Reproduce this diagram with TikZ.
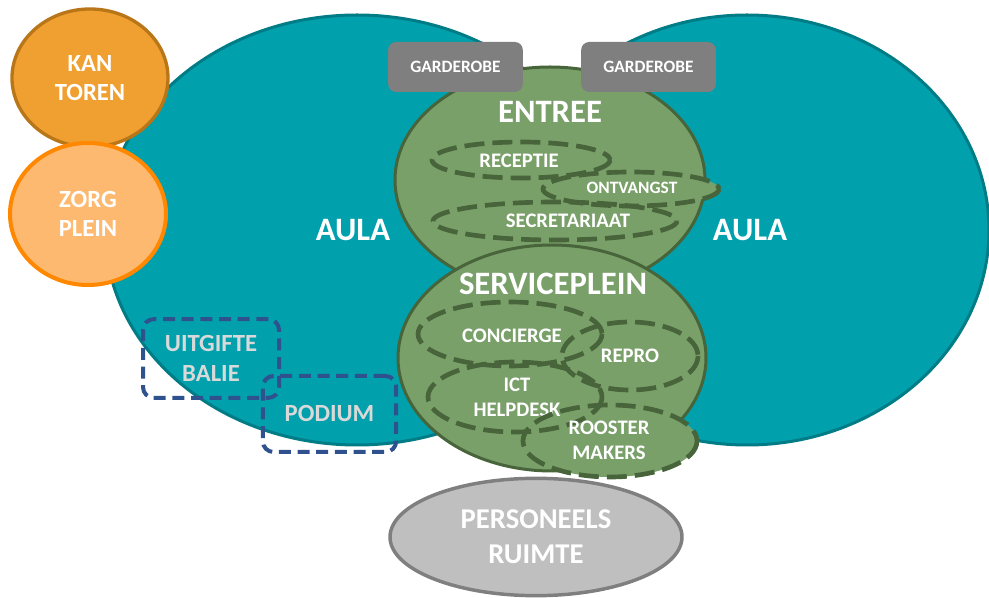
\documentclass[tikz,border=0pt]{standalone}
\usepackage{fontspec}
\setmainfont{Carlito}
\usepackage{xcolor}
\usetikzlibrary{shapes.geometric}

\definecolor{aulavul}{RGB}{0,160,172}
\definecolor{aularand}{RGB}{0,124,134}
\definecolor{groenvul}{RGB}{122,160,106}
\definecolor{groenrand}{RGB}{72,100,58}
\definecolor{grijs}{RGB}{127,127,127}
\definecolor{lichtgrijs}{RGB}{191,191,191}
\definecolor{kantoorvul}{RGB}{240,160,48}
\definecolor{kantoorrand}{RGB}{185,118,24}
\definecolor{zorgvul}{RGB}{253,185,112}
\definecolor{zorgrand}{RGB}{255,136,0}
\definecolor{balie}{RGB}{47,82,143}
\definecolor{balietekst}{RGB}{217,217,217}

\tikzset{
	txt/.style={text=white, align=center, inner sep=0pt},
	groot/.style={txt, font=\fontsize{24.5}{29}\selectfont\bfseries},
	middel/.style={txt, font=\fontsize{18.5}{22}\selectfont\bfseries},
	klein/.style={txt, font=\fontsize{15.5}{18.5}\selectfont\bfseries},
	mini/.style={txt, font=\fontsize{13}{15}\selectfont\bfseries},
	aula/.style={fill=aulavul, draw=aularand, line width=2.25pt},
	plein/.style={fill=groenvul, draw=groenrand, line width=2.25pt},
	balie/.style={draw=groenrand, line width=3.5pt, dash pattern=on 15pt off 6pt},
	garderobe/.style={mini, fill=grijs, rounded corners=6pt, minimum width=101pt, minimum height=37.5pt},
	vakje/.style={middel, text=balietekst, draw=balie, line width=3pt, dash pattern=on 9pt off 5pt, rounded corners=8pt},
	bol/.style={middel, ellipse, line width=2.5pt}
}

\begin{document}
\begin{tikzpicture}[x=0.75pt, y=-0.75pt]
	\useasboundingbox (0,0) rectangle (989,598);

	% aula
	\draw[aula] (747,230) ellipse [x radius=242, y radius=215];
	\draw[aula] (357,230) ellipse [x radius=252, y radius=215];
	\node[groot] (aulaL) at (353,230) {AULA};
	\node[groot] (aulaR) at (750,230) {AULA};

	% entree
	\draw[plein] (550,180) ellipse [x radius=155, y radius=113];
	\fill[groenvul] (631,189) ellipse [x radius=88, y radius=17];
	\draw[balie] (521,160) ellipse [x radius=89, y radius=18];
	\draw[balie] (631,189) ellipse [x radius=88, y radius=17];
	\draw[balie] (555,221) ellipse [x radius=122, y radius=19];
	\node[groot] (entree) at (550,112) {ENTREE};
	\node[klein] (receptie) at (519,161) {RECEPTIE};
	\node[mini] (ontvangst) at (632,188) {ONTVANGST};
	\node[klein] (secretariaat) at (568,221) {SECRETARIAAT};

	% serviceplein
	\draw[plein] (552,358) ellipse [x radius=154, y radius=113];
	\fill[groenvul] (610,441) ellipse [x radius=87, y radius=36];
	\draw[balie] (510,334) ellipse [x radius=92, y radius=32];
	\draw[balie] (630,356) ellipse [x radius=68, y radius=34];
	\draw[balie] (515,397) ellipse [x radius=87, y radius=35];
	\node[groot] (serviceplein) at (553,284) {SERVICEPLEIN};
	\node[klein] (concierge) at (512,336) {CONCIERGE};
	\node[klein] (repro) at (630,356) {REPRO};
	\node[klein] (helpdesk) at (517,397) {ICT\\HELPDESK};
	\draw[balie] (610,441) ellipse [x radius=87, y radius=36];
	\node[klein] (rooster) at (609,440) {ROOSTER\\MAKERS};

	% garderobes
	\node[garderobe] (garderobeL) at (455.5,67) {GARDEROBE};
	\node[garderobe] (garderobeR) at (648.5,67) {GARDEROBE};

	% links
	\node[bol, fill=kantoorvul, draw=kantoorrand, minimum width=117pt, minimum height=103.5pt] (kantoren) at (90,78) {KAN\\TOREN};
	\node[bol, fill=zorgvul, draw=zorgrand, line width=3pt, minimum width=117pt, minimum height=106.5pt] (zorgplein) at (88,214) {ZORG\\PLEIN};
	\node[vakje, minimum width=102pt, minimum height=59pt] (uitgifte) at (211,358.5) {UITGIFTE\\BALIE};
	\node[vakje, minimum width=100pt, minimum height=57pt] (podium) at (329.5,414) {PODIUM};

	% personeel
	\node[groot, font=\fontsize{21.5}{26}\selectfont\bfseries, ellipse, fill=lichtgrijs, draw=grijs, line width=2.6pt, minimum width=219pt, minimum height=88pt] (personeel) at (536,537) {PERSONEELS\\RUIMTE};
\end{tikzpicture}
\end{document}
